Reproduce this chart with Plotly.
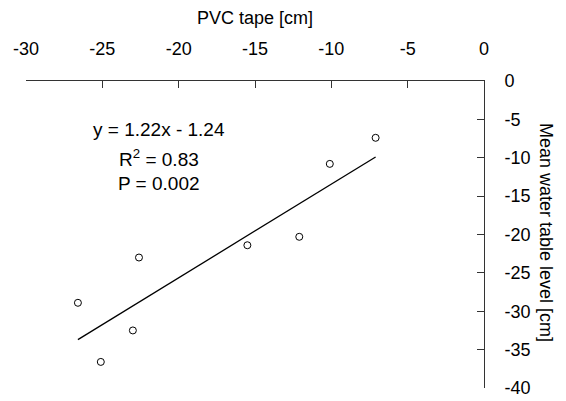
import plotly.graph_objects as go

# Data
pvc_tape = [-26.6, -25.1, -23.0, -22.6, -15.5, -12.1, -10.1, -7.1]
water_table = [-28.9, -36.6, -32.5, -23.0, -21.4, -20.3, -10.8, -7.4]
slope = 1.22
intercept = -1.24
x_ticks = [-30, -25, -20, -15, -10, -5, 0]
x_tick_labels = ["-30", "-25", "-20", "-15", "-10", "-5", "0"]
y_ticks = [0, -5, -10, -15, -20, -25, -30, -35, -40]
y_tick_labels = ["0", "-5", "-10", "-15", "-20", "-25", "-30", "-35", "-40"]

x_fit = [min(pvc_tape), max(pvc_tape)]
y_fit = [slope * v + intercept for v in x_fit]

FONT = "Liberation Sans, Arial, sans-serif"

fig = go.Figure()
fig.add_trace(go.Scatter(x=x_fit, y=y_fit, mode="lines",
                         line=dict(color="black", width=1.3), showlegend=False))
fig.add_trace(go.Scatter(x=pvc_tape, y=water_table, mode="markers",
                         marker=dict(symbol="circle-open", size=7, color="black",
                                     line=dict(width=1, color="black")),
                         showlegend=False))

fig.update_layout(
    width=558, height=393,
    margin=dict(l=18, r=82, t=73, b=13),
    paper_bgcolor="white", plot_bgcolor="white",
    font=dict(family=FONT, size=18, color="black"),
    xaxis=dict(side="top", range=[-30, 0], tickvals=x_ticks, ticktext=x_tick_labels,
               ticks="inside", ticklen=7, tickcolor="#333", tickwidth=1,
               showline=True, linecolor="#333", linewidth=1, automargin=False,
               showgrid=False, zeroline=False, ticklabelstandoff=18,
               title=dict(text="PVC tape [cm]", standoff=10,
                          font=dict(size=18))),
    yaxis=dict(side="right", range=[-40, 0], tickvals=y_ticks, ticktext=y_tick_labels,
               ticks="inside", ticklen=7, tickcolor="#333", tickwidth=1,
               showline=True, linecolor="#333", linewidth=1, automargin=False,
               showgrid=False, zeroline=False, ticklabelstandoff=16),
)

fig.add_annotation(x=-21.3, y=-6.26, text="y = 1.22x - 1.24", showarrow=False,
                   font=dict(size=19))
fig.add_annotation(x=-21.3, y=-10.0, text="R<sup>2</sup> = 0.83", showarrow=False,
                   font=dict(size=19))
fig.add_annotation(x=-21.3, y=-13.4, text="P = 0.002", showarrow=False,
                   font=dict(size=19))
fig.add_annotation(xref="paper", yref="y", x=1.136, y=-19.7,
                   xanchor="center", yanchor="middle",
                   text="Mean water table level [cm]", textangle=90,
                   showarrow=False, font=dict(size=18))

fig.write_html("out.html")
